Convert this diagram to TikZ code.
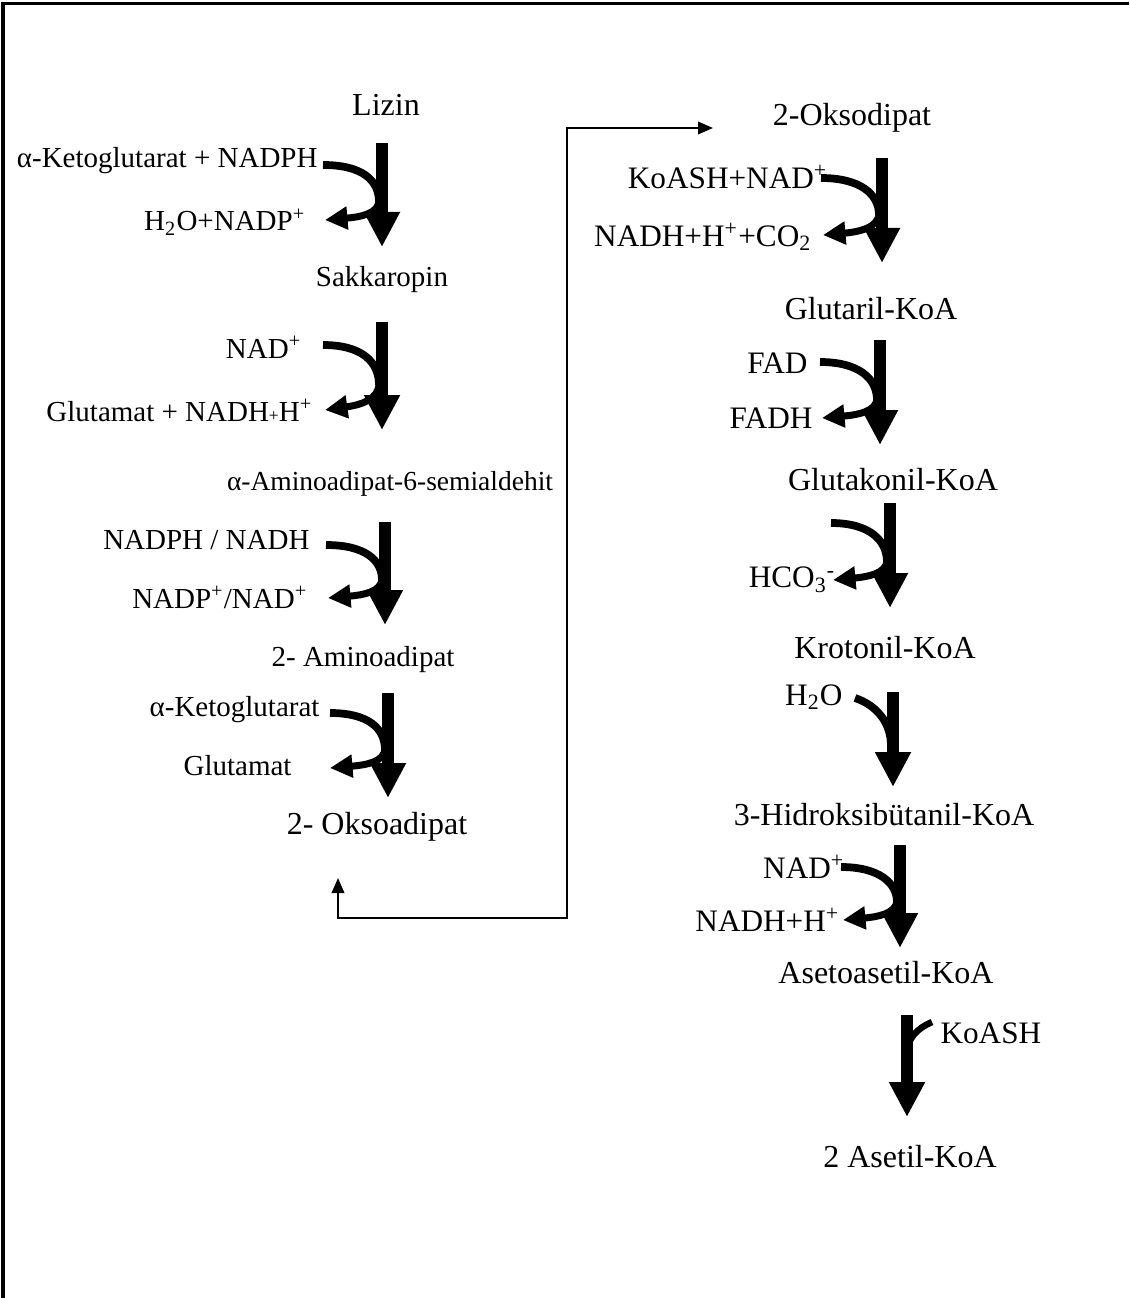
\documentclass[tikz,border=0pt]{standalone}
\usepackage{fontspec}
\setmainfont{Liberation Serif}
\usetikzlibrary{arrows.meta}
\begin{document}
\begin{tikzpicture}[x=0.4pt,y=-0.4pt,
  every node/.style={inner sep=0pt},
  cpd/.style={font=\fontsize{12.8}{15}\selectfont},
  cpdsmall/.style={font=\fontsize{11.6}{14}\selectfont},
  lcof/.style={anchor=east,font=\fontsize{11.6}{14}\selectfont},
  rcof/.style={anchor=east,font=\fontsize{12.5}{15}\selectfont},
  mainarrow/.style={line width=4.6pt,-{Triangle[length=14pt,width=13.5pt]}},
  sidein/.style={line width=3.1pt},
  sideout/.style={line width=2.8pt,-{Triangle[length=9pt,width=8.8pt]}},
  linkarrow/.style={line width=0.8pt,{Triangle[length=6pt,width=5pt]}-{Triangle[length=6pt,width=5pt]}},
  frame/.style={line width=1.2pt}]
\useasboundingbox (0,0) rectangle (1129,1298);
% frame (top and left edges)
\draw[frame] (3,1298) -- (3,4) -- (1129,4);

% ---------- left column: substrates ----------
\node[cpd]      (lizin) at (386,105) {Lizin};
\node[cpdsmall] (sakk)  at (382,280) {Sakkaropin};
\node[font=\fontsize{11}{13}\selectfont] (semi) at (390,484) {α-Aminoadipat-6-semialdehit};
\node[cpdsmall] (amino) at (363,660) {2- Aminoadipat};
\node[cpd]      (okso)  at (377,827) {2- Oksoadipat};

% left column: cofactors
\node[lcof] (s1)  at (318,161) {α-Ketoglutarat + NADPH};
\node[lcof] (p1)  at (306,222) {H\textsubscript{2}O+NADP\textsuperscript{+}};
\node[lcof] (s2)  at (302,347) {NAD\textsuperscript{+}};
\node[lcof] (p2)  at (313,410) {Glutamat + NADH{\scriptsize+}H\textsuperscript{+}};
\node[lcof] (s3)  at (310,540) {NADPH / NADH};
\node[lcof] (p3)  at (308,597) {NADP\textsuperscript{+}/NAD\textsuperscript{+}};
\node[lcof] (s4)  at (320,710) {α-Ketoglutarat};
\node[lcof] (p4)  at (292,766) {Glutamat};

% ---------- right column: substrates ----------
\node[cpd] (oksod)   at (852,118) {2-Oksodipat};
\node[cpd] (glutar)  at (871,309) {Glutaril-KoA};
\node[cpd] (glutak)  at (893,480) {Glutakonil-KoA};
\node[cpd] (kroton)  at (885,648) {Krotonil-KoA};
\node[cpd] (hidro)   at (884,815) {3-Hidroksibütanil-KoA};
\node[cpd] (aseto)   at (886,973) {Asetoasetil-KoA};
\node[cpd] (asetil)  at (910,1157) {2 Asetil-KoA};

% right column: cofactors
\node[rcof] (s5)  at (828,177) {KoASH+NAD\textsuperscript{+}};
\node[rcof] (p5)  at (812,237) {NADH+H\textsuperscript{+}+CO\textsubscript{2}};
\node[rcof] (s6)  at (808,363) {FAD};
\node[rcof] (p6)  at (813,418) {FADH};
\node[rcof] (p7)  at (836,580) {HCO\textsubscript{3}\textsuperscript{-}};
\node[rcof] (s8)  at (843,697) {H\textsubscript{2}O};
\node[rcof] (s9)  at (845,867) {NAD\textsuperscript{+}};
\node[rcof] (p9)  at (840,920) {NADH+H\textsuperscript{+}};
\node[rcof,anchor=west] (s10) at (940,1033) {KoASH};

% ---------- reaction arrows ----------
% step 1
\draw[mainarrow] (382,143) -- (382,247);
\draw[sidein]  (323,165) .. controls (362,165) and (379,180) .. (379,202);
\draw[sideout] (379,200) .. controls (379,214) and (360,217) .. (325,220);
% step 2
\draw[mainarrow] (382,322) -- (382,430);
\draw[sidein]  (323,345) .. controls (362,345) and (379,362) .. (379,385);
\draw[sideout] (379,383) .. controls (379,400) and (360,405) .. (325,410);
% step 3
\draw[mainarrow] (385,522) -- (385,625);
\draw[sidein]  (326,545) .. controls (365,545) and (382,560) .. (382,580);
\draw[sideout] (382,578) .. controls (382,592) and (363,595) .. (328,598);
% step 4
\draw[mainarrow] (388,693) -- (388,798);
\draw[sidein]  (330,713) .. controls (368,713) and (385,728) .. (385,750);
\draw[sideout] (385,748) .. controls (385,762) and (366,765) .. (330,768);
% step 5
\draw[mainarrow] (882,158) -- (882,263);
\draw[sidein]  (821,178) .. controls (860,178) and (879,194) .. (879,215);
\draw[sideout] (879,213) .. controls (879,228) and (858,232) .. (823,235);
% step 6
\draw[mainarrow] (880,340) -- (880,445);
\draw[sidein]  (820,362) .. controls (858,362) and (877,378) .. (877,400);
\draw[sideout] (877,398) .. controls (877,412) and (856,415) .. (822,418);
% step 7
\draw[mainarrow] (890,503) -- (890,608);
\draw[sidein]  (831,523) .. controls (869,523) and (887,540) .. (887,562);
\draw[sideout] (887,560) .. controls (887,574) and (866,577) .. (833,580);
% step 8
\draw[mainarrow] (893,692) -- (893,787);
\draw[sidein]  (855,698) .. controls (876,705) and (891,722) .. (891,746);
% step 9
\draw[mainarrow] (900,845) -- (900,948);
\draw[sidein]  (841,867) .. controls (879,867) and (897,883) .. (897,902);
\draw[sideout] (897,900) .. controls (897,914) and (876,917) .. (843,920);
% step 10
\draw[mainarrow] (907,1015) -- (907,1117);
\draw[line width=2.6pt] (906,1058) .. controls (906,1038) and (918,1028) .. (932,1022);

% ---------- link between the two columns ----------
\coordinate (linkA) at (338,878);
\coordinate (linkB) at (713,128);
\draw[linkarrow] (linkA) -- (338,918) -- (567,918) -- (567,128) -- (linkB);
\end{tikzpicture}
\end{document}
